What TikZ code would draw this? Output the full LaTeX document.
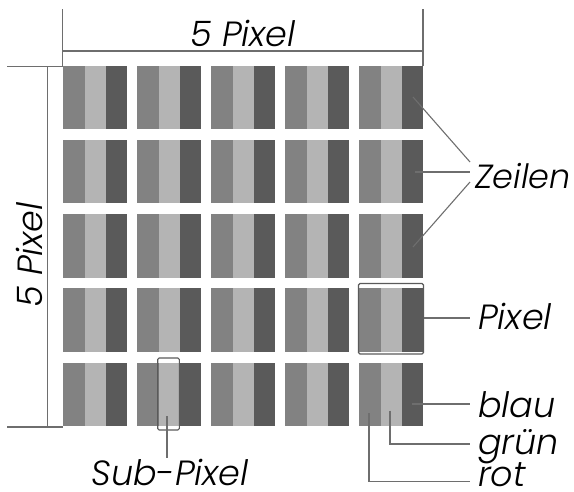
\documentclass[tikz,border=0pt]{standalone}
\usepackage{fontspec}
\newfontfamily\lab{Poppins}[UprightFont=* Light, ItalicFont=* Light Italic]
\definecolor{cA}{HTML}{828282}
\definecolor{cB}{HTML}{B4B4B4}
\definecolor{cC}{HTML}{5A5A5A}
\definecolor{lg}{HTML}{6E6E6E}
\begin{document}
\begin{tikzpicture}[x=1pt,y=-1pt,
  dim/.style={draw=lg, line width=1.3pt},
  lead/.style={draw=lg, line width=1.1pt},
  lbl/.style={font=\lab\fontsize{35}{40}\selectfont\itshape, inner sep=0pt, text=black},
  selbox/.style={draw=cC, line width=1.1pt, rounded corners=1.5pt}]
\useasboundingbox (0,0) rectangle (574,491);
% pixel grid
\foreach \i in {0,...,4} {
  \foreach \j in {0,...,4} {
    \pgfmathsetmacro\xa{63.3+74*\i}
    \pgfmathsetmacro\ya{65.7+74.25*\j}
    \fill[cA] (\xa,\ya) rectangle ++(21.3,63.3);
    \fill[cB] (\xa+21.3,\ya) rectangle ++(21.2,63.3);
    \fill[cC] (\xa+42.5,\ya) rectangle ++(21.2,63.3);
  }
}
% dimension lines
\coordinate (t1) at (62.5,9);   \coordinate (t2) at (62.5,66);
\coordinate (t3) at (423,9);    \coordinate (t4) at (423,66);
\coordinate (t5) at (62.5,51);  \coordinate (t6) at (423,51);
\draw[dim] (t1) -- (t2);
\draw[dim] (t3) -- (t4);
\draw[dim] (t5) -- (t6);
\coordinate (l1) at (7,66.5);   \coordinate (l2) at (63,66.5);
\coordinate (l3) at (7,427);    \coordinate (l4) at (63,427);
\coordinate (l5) at (47.7,66.5);\coordinate (l6) at (47.7,427);
\draw[dim] (l1) -- (l2);
\draw[dim] (l3) -- (l4);
\draw[dim] (l5) -- (l6);
\node[lbl, anchor=base] (top) at (243,46) {5 Pixel};
\node[lbl, anchor=base, rotate=90] (left) at (42,255) {5 Pixel};
% selection boxes
\node[selbox, minimum width=65pt, minimum height=70.5pt, inner sep=0pt] (pixbox) at (391,318.75) {};
\node[selbox, minimum width=21.6pt, minimum height=72pt, inner sep=0pt] (subbox) at (168.5,394) {};
% labels
\node[lbl, anchor=base west, font=\lab\fontsize{33.5}{40}\selectfont\itshape] (zeilen) at (475,188) {Zeilen};
\node[lbl, anchor=base west] (pixel) at (478,329) {Pixel};
\node[lbl, anchor=base west] (blau) at (478,417) {blau};
\node[lbl, anchor=base west] (gruen) at (478,454) {grün};
\node[lbl, anchor=base west] (rot) at (478,486) {rot};
\node[lbl, anchor=base] (sub) at (170,485) {Sub-Pixel};
% leader lines
\coordinate (z1) at (413,97);  \coordinate (z1e) at (470,162);
\coordinate (z2) at (415,172); \coordinate (z2e) at (470,172);
\coordinate (z3) at (413,247); \coordinate (z3e) at (470,182);
\draw[lead] (z1) -- (z1e);
\draw[lead] (z2) -- (z2e);
\draw[lead] (z3) -- (z3e);
\coordinate (pe) at (470,318);
\draw[lead] (pixbox.east |- pe) -- (pe);
\coordinate (b1) at (411.7,404); \coordinate (b2) at (470,404);
\draw[lead] (b1) -- (b2);
\coordinate (g1) at (390,410.7); \coordinate (g2) at (470,444);
\draw[lead] (g1) |- (g2);
\coordinate (r1) at (369,413); \coordinate (r2) at (470,481.7);
\draw[lead] (r1) |- (r2);
\coordinate (s1) at (167,416); \coordinate (s2) at (167,458);
\draw[lead] (s1) -- (s2);
\end{tikzpicture}
\end{document}
